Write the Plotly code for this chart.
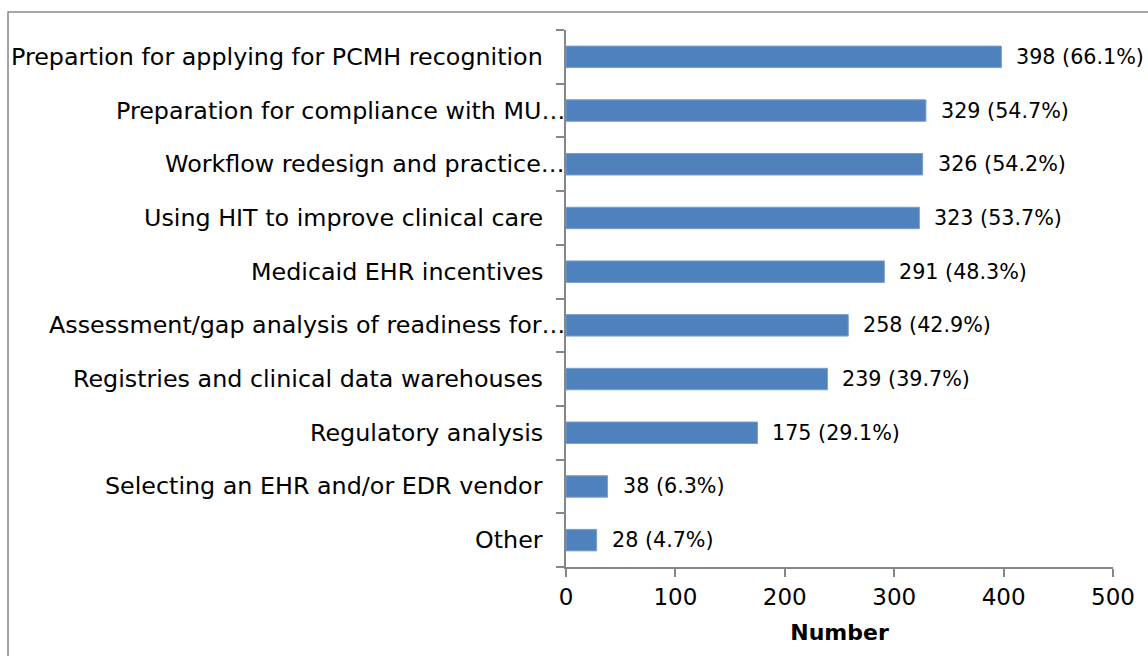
import plotly.graph_objects as go

# Services requested, top to bottom
categories = [
    "Prepartion for applying for PCMH recognition",
    "Preparation for compliance with MU\u2026",
    "Workflow redesign and practice\u2026",
    "Using HIT to improve clinical care",
    "Medicaid EHR incentives",
    "Assessment/gap analysis of readiness for\u2026",
    "Registries and clinical data warehouses",
    "Regulatory analysis",
    "Selecting an EHR and/or EDR vendor",
    "Other",
]
counts = [398, 329, 326, 323, 291, 258, 239, 175, 38, 28]
percents = [66.1, 54.7, 54.2, 53.7, 48.3, 42.9, 39.7, 29.1, 6.3, 4.7]
x_ticks = [0, 100, 200, 300, 400, 500]

FONT = "DejaVu Sans, Liberation Sans, Arial, sans-serif"
AXIS_GREY = "#868686"

fig = go.Figure()
fig.add_trace(go.Bar(
    x=counts,
    y=categories,
    orientation="h",
    width=0.4,
    marker=dict(color="#4F81BD", line=dict(color="#7A9FCE", width=1)),
    hoverinfo="x+y",
))

annotations = []
# Category labels (long ones are cut off with an ellipsis that runs up to the axis)
for cat in categories:
    truncated = cat.endswith("\u2026")
    annotations.append(dict(
        x=0, xref="paper", y=cat, yref="y",
        text=cat, showarrow=False,
        xanchor="right", yanchor="middle",
        xshift=1 if truncated else -21,
        font=dict(family=FONT, size=23.8, color="#000000"),
    ))

# Value labels next to each bar
for cat, n, p in zip(categories, counts, percents):
    annotations.append(dict(
        x=n, xref="x", y=cat, yref="y",
        text=f"{n} ({p:.1f}%)", showarrow=False,
        xanchor="left", yanchor="middle", xshift=13,
        font=dict(family=FONT, size=20.7, color="#000000"),
    ))

fig.update_layout(
    width=1148,
    height=656,
    margin=dict(l=566, r=35, t=30, b=89),
    paper_bgcolor="white",
    plot_bgcolor="white",
    showlegend=False,
    annotations=annotations,
    shapes=[dict(
        type="rect", xref="paper", yref="paper",
        x0=-1.0201, x1=1.2, y0=-0.3, y1=1.0335,
        line=dict(color="#898989", width=1.5),
        fillcolor="rgba(0,0,0,0)", layer="below",
    )],
    xaxis=dict(
        range=[0, 500],
        tickvals=x_ticks,
        ticks="outside", ticklen=8, tickwidth=2, tickcolor=AXIS_GREY,
        showline=True, linecolor=AXIS_GREY, linewidth=2,
        showgrid=False, zeroline=False,
        tickfont=dict(family=FONT, size=23, color="#000000"),
        title=dict(text="<b>Number</b>", standoff=16,
                   font=dict(family=FONT, size=22, color="#000000")),
    ),
    yaxis=dict(
        type="category",
        categoryorder="array",
        categoryarray=categories[::-1],
        tickson="boundaries",
        ticks="outside", ticklen=8, tickwidth=2, tickcolor=AXIS_GREY,
        showticklabels=False,
        showline=True, linecolor=AXIS_GREY, linewidth=2,
        showgrid=False, zeroline=False,
    ),
)

fig.write_html("out.html")
